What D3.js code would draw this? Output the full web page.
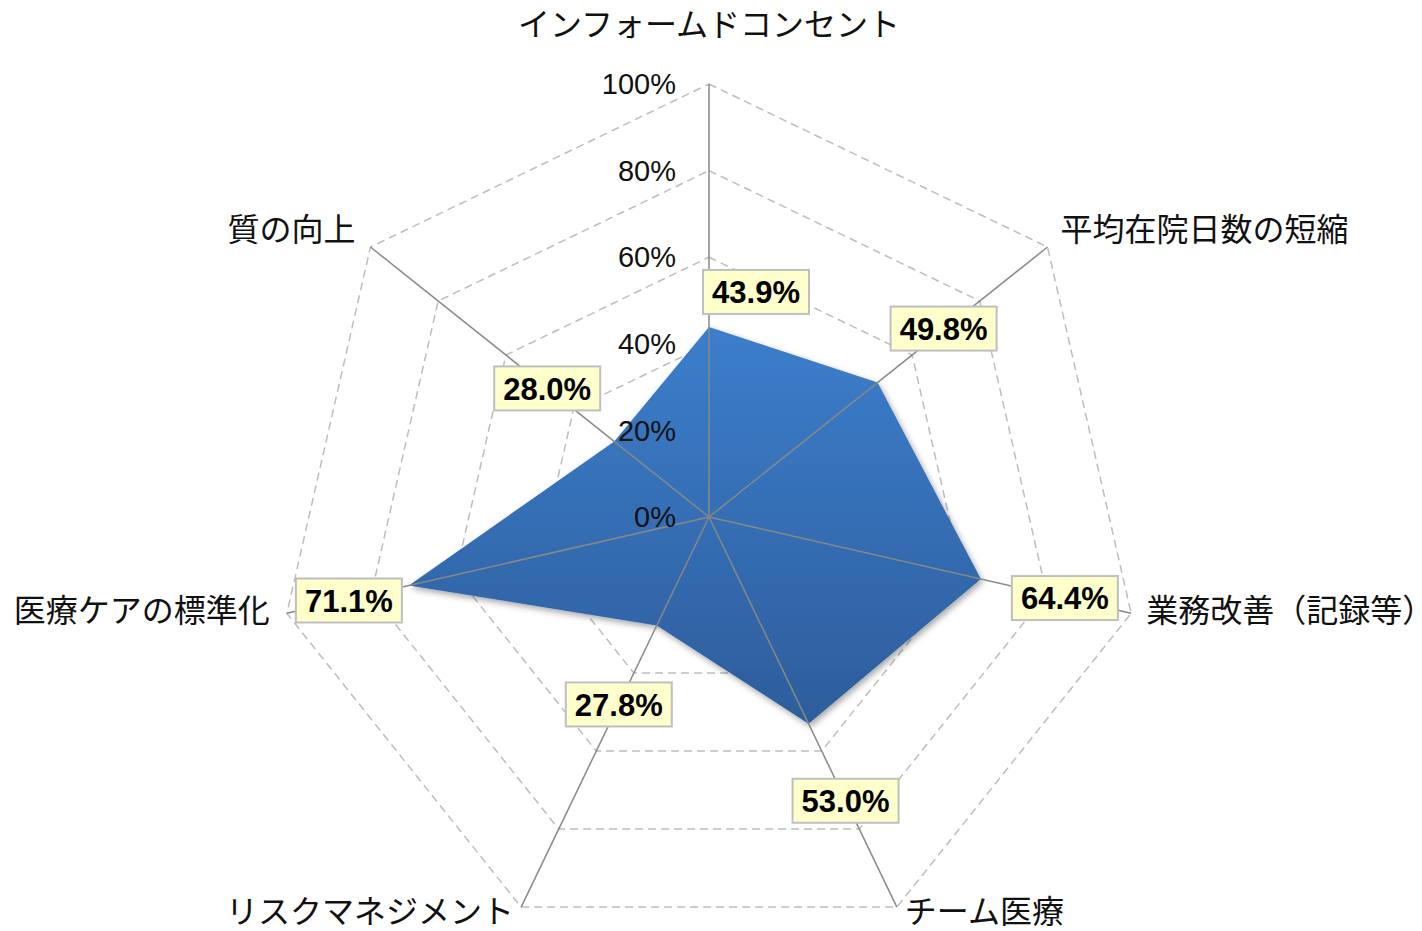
<!DOCTYPE html>
<html lang="ja">
<head>
<meta charset="UTF-8" />
<title>Radar chart</title>
<style>
  body { margin: 0; background: #fff; }
  svg { display: block; }
  .grid { fill: none; stroke: #bdbdbd; stroke-width: 1.5; stroke-dasharray: 8 5; }
  .axis { stroke: #888; stroke-width: 1.5; }
  .tick { font-family: "Liberation Sans", Arial, sans-serif; font-size: 29px; fill: #111; }
  .cat { font-family: "Noto Sans CJK JP", sans-serif; font-size: 32px; fill: #111; }
  .val { font-family: "Liberation Sans", Arial, sans-serif; font-size: 31px; font-weight: bold; fill: #000; }
  .valbox { fill: #ffffcc; stroke: #bfbfbf; stroke-width: 2; }
</style>
</head>
<body>
<svg width="1422" height="931"></svg>
<script src="https://d3js.org/d3.v7.min.js"></script>
<script>
  const categories = ["インフォームドコンセント", "平均在院日数の短縮", "業務改善（記録等）", "チーム医療",
    "リスクマネジメント", "医療ケアの標準化", "質の向上"];
  const values = [43.9, 49.8, 64.4, 53.0, 27.8, 71.1, 28.0];
  const ticks = [0, 20, 40, 60, 80, 100];

  // label placement tweaks (from the picture)
  const labelOffsets = [[47, -35], [66, -54], [84, 19], [37, 77], [-38, 79], [-60, 15], [-67, -53]];
  const catOffsets = [[0, -59, "middle"], [13, -17, "start"], [15, -3, "start"], [8, 5, "start"],
    [-7, 5, "end"], [-17, -3, "end"], [-15, -17, "end"]];

  const cx = 709, cy = 517, R = 433;
  const svg = d3.select("svg");
  const r = d3.scaleLinear().domain([0, 100]).range([0, R]);
  const n = categories.length;
  const angle = i => i * 2 * Math.PI / n - Math.PI / 2;
  const pt = (i, v) => [cx + r(v) * Math.cos(angle(i)), cy + r(v) * Math.sin(angle(i))];

  const defs = svg.append("defs");
  const grad = defs.append("linearGradient").attr("id", "fillGrad")
    .attr("x1", 0).attr("y1", 0).attr("x2", 0).attr("y2", 1);
  grad.append("stop").attr("offset", "0%").attr("stop-color", "#3c7ecc");
  grad.append("stop").attr("offset", "100%").attr("stop-color", "#2d5d9b");
  const shadow = defs.append("filter").attr("id", "shadow")
    .attr("x", "-10%").attr("y", "-10%").attr("width", "130%").attr("height", "130%");
  shadow.append("feDropShadow").attr("dx", 2).attr("dy", 3).attr("stdDeviation", 3)
    .attr("flood-color", "#000").attr("flood-opacity", 0.35);

  // gridlines
  svg.append("g").selectAll("polygon")
    .data(ticks.filter(t => t > 0))
    .join("polygon")
    .attr("class", "grid")
    .attr("points", t => d3.range(n).map(i => pt(i, t).join(",")).join(" "));

  // data area
  svg.append("polygon")
    .attr("points", values.map((v, i) => pt(i, v).join(",")).join(" "))
    .attr("fill", "url(#fillGrad)")
    .attr("filter", "url(#shadow)");

  // axes
  svg.append("g").selectAll("line")
    .data(categories)
    .join("line")
    .attr("class", "axis")
    .attr("x1", cx).attr("y1", cy)
    .attr("x2", (d, i) => pt(i, 100)[0])
    .attr("y2", (d, i) => pt(i, 100)[1]);

  // tick labels
  svg.append("g").selectAll("text")
    .data(ticks)
    .join("text")
    .attr("class", "tick")
    .attr("x", cx - 33)
    .attr("y", t => cy - r(t))
    .attr("dy", "0.35em")
    .attr("text-anchor", "end")
    .text(t => t + "%");

  // category labels
  svg.append("g").selectAll("text")
    .data(categories)
    .join("text")
    .attr("class", "cat")
    .attr("x", (d, i) => pt(i, 100)[0] + catOffsets[i][0])
    .attr("y", (d, i) => pt(i, 100)[1] + catOffsets[i][1])
    .attr("dy", "0.35em")
    .attr("text-anchor", (d, i) => catOffsets[i][2])
    .text(d => d);

  // value labels
  const vl = svg.append("g").selectAll("g")
    .data(values)
    .join("g")
    .attr("transform", (v, i) => {
      const p = pt(i, v);
      return `translate(${p[0] + labelOffsets[i][0]},${p[1] + labelOffsets[i][1]})`;
    });
  vl.append("rect").attr("class", "valbox")
    .attr("x", -53).attr("y", -22).attr("width", 106).attr("height", 44);
  vl.append("text").attr("class", "val")
    .attr("text-anchor", "middle")
    .attr("dy", "0.36em")
    .text(v => v.toFixed(1) + "%");
</script>
</body>
</html>
